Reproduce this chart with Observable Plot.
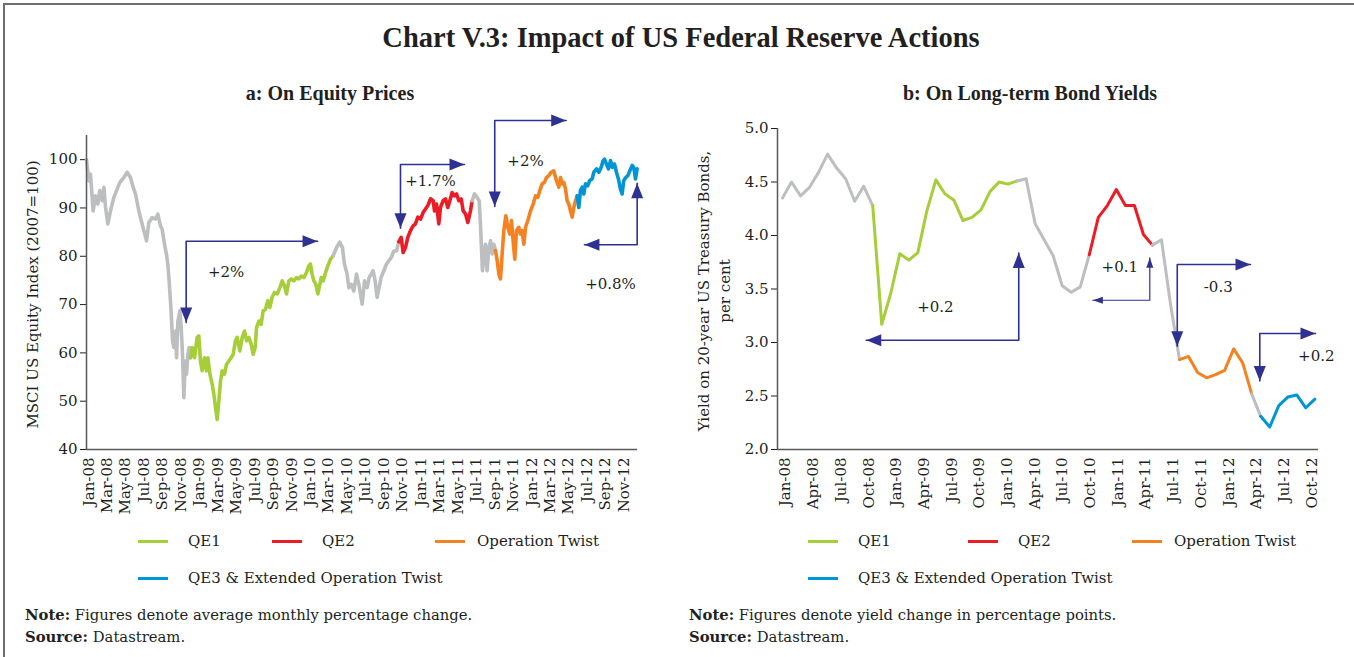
<!DOCTYPE html>
<html><head><meta charset="utf-8">
<script src="https://cdn.jsdelivr.net/npm/d3@7"></script>
<script src="https://cdn.jsdelivr.net/npm/@observablehq/plot@0.6"></script>
<style>
body{margin:0;background:#fff;}
#page{position:relative;width:1354px;height:657px;overflow:hidden;background:#fff;font-family:"DejaVu Serif",serif;color:#231f20;}
.abs{position:absolute;white-space:nowrap;}
.title{font-family:"Liberation Serif",serif;font-weight:bold;font-size:28.5px;transform:translate(-50%,-50%);}
.sub{font-family:"Liberation Serif",serif;font-weight:bold;font-size:20px;transform:translate(-50%,-50%);}
.leg{font-size:15px;transform:translateY(-50%);display:flex;align-items:center;}
.sw{display:inline-block;width:30px;height:3px;margin-right:20px;}
.note{font-size:14.8px;transform:translateY(-50%);}
#left,#right{position:absolute;top:110px;}
#left{left:0;} #right{left:680px;}
</style></head><body>
<div id="page">
  <div class="abs" style="left:3px;top:3px;width:1351px;height:2px;background:#6d6e71"></div>
  <div class="abs" style="left:3px;top:3px;width:2px;height:654px;background:#6d6e71"></div>
  <div class="abs title" style="left:681px;top:38px">Chart V.3: Impact of US Federal Reserve Actions</div>
  <div class="abs sub" style="left:330px;top:93px">a: On Equity Prices</div>
  <div class="abs sub" style="left:1030px;top:93px">b: On Long-term Bond Yields</div>
  <div id="left"></div>
  <div id="right"></div>
  <div id="legends"></div>
  <div class="abs note" style="left:25px;top:614px"><b>Note:</b> Figures denote average monthly percentage change.</div>
  <div class="abs note" style="left:25px;top:636px"><b>Source:</b> Datastream.</div>
  <div class="abs note" style="left:689px;top:614px"><b>Note:</b> Figures denote yield change in percentage points.</div>
  <div class="abs note" style="left:689px;top:636px"><b>Source:</b> Datastream.</div>
</div>
<script>
// ---------- Colours ----------
const phaseNames = ["QE1", "QE2", "Operation Twist", "QE3 & Extended Operation Twist"];
const phaseColors = ["#a6ce39", "#ed1c24", "#f58220", "#0096d6"];
const greyColor = "#bcbec0";
const arrowColor = "#2e3192";

// ---------- Panel a: MSCI US equity index (decimal year, index) ----------
const eqPre = [[2008.000,100],[2008.021,95.6],[2008.036,97],[2008.060,89.4],[2008.081,92.5],[2008.102,90.8],[2008.120,93.6],[2008.141,91.5],[2008.157,94.3],[2008.172,90.1],[2008.193,86.7],[2008.217,89.4],[2008.247,92.2],[2008.271,93.6],[2008.301,95.3],[2008.337,96.3],[2008.367,97.4],[2008.397,96.3],[2008.421,94.3],[2008.442,92.9],[2008.473,89.4],[2008.494,87.4],[2008.518,85.3],[2008.542,83.2],[2008.563,87],[2008.593,88],[2008.623,87.7],[2008.644,88.7],[2008.668,86.3],[2008.683,85.6],[2008.704,82.5],[2008.722,80.4],[2008.734,78.4],[2008.746,74.9],[2008.758,70.8],[2008.767,67.3],[2008.777,62.5],[2008.789,61.1],[2008.804,64.5],[2008.813,59],[2008.825,66.6],[2008.843,68.7],[2008.855,65.2],[2008.867,59.7],[2008.879,50.7],[2008.891,58.3],[2008.903,55.6],[2008.915,59.7],[2008.927,61.1],[2008.939,59]];
const eqQE1 = [[2008.939,59],[2008.954,61.1],[2008.975,59],[2008.999,63.2],[2009.014,63.5],[2009.029,58.3],[2009.044,56.3],[2009.065,59],[2009.083,56.3],[2009.096,59],[2009.114,55.6],[2009.135,53.5],[2009.150,51.4],[2009.165,48.7],[2009.180,46.2],[2009.195,50],[2009.210,54.2],[2009.225,56.3],[2009.246,55.6],[2009.264,57.6],[2009.285,58.3],[2009.306,59],[2009.324,59.7],[2009.345,62.5],[2009.360,63.2],[2009.384,60.4],[2009.406,63.2],[2009.427,64.5],[2009.445,62.5],[2009.466,63.2],[2009.487,61.8],[2009.505,59.7],[2009.523,61.1],[2009.535,65.2],[2009.556,66.6],[2009.577,65.9],[2009.595,68.7],[2009.616,69],[2009.637,70.8],[2009.655,69.4],[2009.676,71.5],[2009.697,72.5],[2009.722,72.2],[2009.746,73.5],[2009.767,74.9],[2009.788,73.9],[2009.806,72.2],[2009.827,74.9],[2009.848,75.3],[2009.872,74.9],[2009.896,75.6],[2009.917,75.3],[2009.938,75.9],[2009.962,75.6],[2009.986,76.6],[2010.007,78],[2010.022,78.4],[2010.037,76.3],[2010.053,74.9],[2010.071,74.2],[2010.089,72.2],[2010.107,74.2],[2010.119,75.6],[2010.137,74.9],[2010.158,76.6],[2010.179,78],[2010.203,79.4],[2010.227,80.1]];
const eqGap1 = [[2010.227,80.1],[2010.257,81.8],[2010.287,82.9],[2010.311,81.8],[2010.329,78.4],[2010.353,76.3],[2010.369,73.5],[2010.390,74.2],[2010.414,72.8],[2010.438,76.3],[2010.459,74.2],[2010.489,70.1],[2010.510,74.9],[2010.534,73.5],[2010.552,75.6],[2010.570,76.3],[2010.588,77],[2010.606,74.9],[2010.624,71.5],[2010.642,73.5],[2010.660,75.6],[2010.685,77],[2010.709,78.4],[2010.730,79.1],[2010.751,79.7],[2010.775,81.1],[2010.799,81.1],[2010.820,83]];
const eqQE2 = [[2010.820,83],[2010.841,83.9],[2010.859,80.8],[2010.880,81.8],[2010.901,83.9],[2010.925,85.3],[2010.949,86.3],[2010.970,86.7],[2010.992,88.1],[2011.016,87.7],[2011.040,89.1],[2011.061,89.8],[2011.082,90.5],[2011.106,91.9],[2011.130,91.5],[2011.142,89.4],[2011.160,90.8],[2011.181,86.7],[2011.196,90.1],[2011.220,91.5],[2011.241,91.9],[2011.262,90.1],[2011.286,91.9],[2011.301,93.2],[2011.323,92.5],[2011.341,92.9],[2011.362,91.5],[2011.383,91.9],[2011.401,89.4],[2011.422,88.8],[2011.443,87],[2011.467,89.4],[2011.482,91.5]];
const eqGap2 = [[2011.482,91.5],[2011.503,92.9],[2011.527,92.2],[2011.545,91.5],[2011.557,86.7],[2011.566,81.8],[2011.575,77],[2011.587,79.8],[2011.602,82.5],[2011.617,77],[2011.633,81.8],[2011.648,83.2],[2011.663,80.5],[2011.678,82.5],[2011.693,81.2]];
const eqOT = [[2011.693,81.2],[2011.708,79.1],[2011.723,76.3],[2011.738,75.3],[2011.753,80.5],[2011.768,85.3],[2011.786,88.4],[2011.804,86],[2011.822,84.6],[2011.837,87.4],[2011.852,83.2],[2011.867,79.4],[2011.882,85.3],[2011.903,86],[2011.918,84.6],[2011.933,85.3],[2011.949,82.5],[2011.964,86],[2011.985,87.4],[2012.009,89.4],[2012.033,90.8],[2012.054,92.5],[2012.075,92.2],[2012.093,93.6],[2012.114,95],[2012.135,95.3],[2012.153,96.3],[2012.174,96.7],[2012.195,97.4],[2012.219,97.7],[2012.243,95.7],[2012.265,94.3],[2012.280,96.3],[2012.295,95],[2012.310,95.3],[2012.325,93.9],[2012.340,91.5],[2012.355,90.8],[2012.370,89.4],[2012.385,88.1],[2012.400,90.1],[2012.415,91.5],[2012.430,92.5]];
const eqQE3 = [[2012.430,92.5],[2012.445,90.1],[2012.460,93.6],[2012.475,94.3],[2012.490,92.9],[2012.505,95],[2012.526,94.6],[2012.544,95.7],[2012.565,96],[2012.581,97.4],[2012.605,98.1],[2012.626,97.4],[2012.647,98.4],[2012.665,99.8],[2012.677,100.1],[2012.695,99.1],[2012.713,98.1],[2012.731,99.8],[2012.749,98.4],[2012.767,99.1],[2012.785,97.4],[2012.803,96],[2012.821,93.9],[2012.836,92.9],[2012.851,95.7],[2012.869,96.3],[2012.888,96.7],[2012.906,97.7],[2012.927,98.8],[2012.942,98.4],[2012.957,96],[2012.972,98.1]];

const eqTickLabels = ["Jan-08","Mar-08","May-08","Jul-08","Sep-08","Nov-08","Jan-09","Mar-09","May-09","Jul-09","Sep-09","Nov-09","Jan-10","Mar-10","May-10","Jul-10","Sep-10","Nov-10","Jan-11","Mar-11","May-11","Jul-11","Sep-11","Nov-11","Jan-12","Mar-12","May-12","Jul-12","Sep-12","Nov-12"];
const eqYTicks = [40, 50, 60, 70, 80, 90, 100];
const eqYLabel = "MSCI US Equity Index (2007=100)";
// annotation arrows: corner point, horizontal tip (x), vertical tip (y)
const eqArrows = [
  {corner: [2008.900, 83.1], hTip: 2010.086, vTip: 66.3},
  {corner: [2010.835, 99.0], hTip: 2011.413, vTip: 85.8},
  {corner: [2011.686, 108.1], hTip: 2012.331, vTip: 90.3},
  {corner: [2012.972, 82.4], hTip: 2012.496, vTip: 95.1}
];
const eqNotes = [
  {x: 2009.261, y: 76.7, text: "+2%"},
  {x: 2011.106, y: 95.6, text: "+1.7%"},
  {x: 2011.964, y: 99.6, text: "+2%"},
  {x: 2012.731, y: 74.3, text: "+0.8%"}
];

// ---------- Panel b: 20-year US Treasury yield ----------
const bondStart = 2008.0;       // first observation
const bondStep = 0.08146;       // spacing of observations (years)
const bondYield = [4.35,4.50,4.37,4.45,4.59,4.76,4.63,4.53,4.32,4.46,4.28,3.17,3.46,3.83,3.77,3.84,4.23,4.52,4.39,4.33,4.14,4.17,4.24,4.41,4.50,4.48,4.51,4.53,4.11,3.96,3.81,3.53,3.47,3.52,3.82,4.17,4.28,4.43,4.28,4.28,4.01,3.91,3.96,3.36,2.84,2.87,2.72,2.67,2.70,2.74,2.94,2.81,2.52,2.31,2.21,2.41,2.49,2.51,2.39,2.47];
// segments by observation index: [from, to, phase index or -1 for grey]
const bondSegments = [[0,10,-1],[10,26,0],[26,34,-1],[34,41,1],[41,44,-1],[44,52,2],[52,53,-1],[53,59,3]];
const bondTickLabels = ["Jan-08","Apr-08","Jul-08","Oct-08","Jan-09","Apr-09","Jul-09","Oct-09","Jan-10","Apr-10","Jul-10","Oct-10","Jan-11","Apr-11","Jul-11","Oct-11","Jan-12","Apr-12","Jul-12","Oct-12"];
const bondYTicks = [2.0, 2.5, 3.0, 3.5, 4.0, 4.5, 5.0];
const bondYLabel = "Yield on 20-year US Treasury Bonds,\nper cent";
const bondArrows = [
  {corner: [2010.133, 3.021], hTip: 2008.756, vTip: 3.837, small: false},
  {corner: [2011.316, 3.395], hTip: 2010.802, vTip: 3.791, small: true},
  {corner: [2011.564, 3.729], hTip: 2012.225, vTip: 2.965, small: false},
  {corner: [2012.309, 3.084], hTip: 2012.812, vTip: 2.641, small: false}
];
const bondNotes = [
  {x: 2009.381, y: 3.333, text: "+0.2"},
  {x: 2011.045, y: 3.701, text: "+0.1"},
  {x: 2011.934, y: 3.520, text: "-0.3"},
  {x: 2012.819, y: 2.875, text: "+0.2"}
];

// ---------- helpers ----------
const monthIdx = {Jan:0,Feb:1,Mar:2,Apr:3,May:4,Jun:5,Jul:6,Aug:7,Sep:8,Oct:9,Nov:10,Dec:11};
const labelYear = s => 2000 + +s.slice(4) + monthIdx[s.slice(0,3)] / 12;

function head(dir, L, W) {
  return {draw(ctx) {
    ctx.moveTo(0, 0);
    if (dir === "right") { ctx.lineTo(-L, -W); ctx.lineTo(-L, W); }
    if (dir === "left")  { ctx.lineTo(L, -W);  ctx.lineTo(L, W); }
    if (dir === "down")  { ctx.lineTo(-W, -L); ctx.lineTo(W, -L); }
    if (dir === "up")    { ctx.lineTo(-W, L);  ctx.lineTo(W, L); }
    ctx.closePath();
  }};
}

function arrowMarks(arrows) {
  const marks = [];
  for (const a of arrows) {
    const [cx, cy] = a.corner;
    const L = a.small ? 10 : 15, W = a.small ? 3.5 : 6;
    const sw = a.small ? 1.2 : 1.6;
    marks.push(Plot.line([[a.hTip, cy], [cx, cy], [cx, a.vTip]], {stroke: arrowColor, strokeWidth: sw}));
    marks.push(Plot.dot([[a.hTip, cy]], {symbol: head(a.hTip > cx ? "right" : "left", L, W), fill: arrowColor, stroke: "none", r: 5}));
    marks.push(Plot.dot([[cx, a.vTip]], {symbol: head(a.vTip < cy ? "down" : "up", L, W), fill: arrowColor, stroke: "none", r: 5}));
  }
  return marks;
}

const axisColor = "#58595b";
const fontStyle = {fontFamily: "DejaVu Serif, serif", fontSize: "15px", color: "#231f20", background: "transparent", overflow: "visible"};

// ---------- Panel a ----------
const eqSegs = [[eqPre, greyColor], [eqQE1, phaseColors[0]], [eqGap1, greyColor], [eqQE2, phaseColors[1]], [eqGap2, greyColor], [eqOT, phaseColors[2]], [eqQE3, phaseColors[3]]];
const eqXDomain = [2008.0, 2012.975];
const left = Plot.plot({
  width: 680, height: 410,
  marginLeft: 86, marginRight: 43, marginTop: 25, marginBottom: 71,
  style: fontStyle,
  x: {domain: eqXDomain, axis: null},
  y: {domain: [40, 105], ticks: eqYTicks, tickSize: 6, tickPadding: 3, label: null},
  marks: [
    ...eqSegs.map(([d, c]) => Plot.line(d, {x: d => d[0], y: d => d[1], stroke: c, strokeWidth: 3.6, strokeLinejoin: "round"})),
    Plot.ruleX([eqXDomain[0]], {y1: 40, y2: 105, stroke: axisColor, strokeWidth: 1.5}),
    Plot.ruleY([40], {stroke: axisColor, strokeWidth: 1.5}),
    Plot.text(eqTickLabels, {x: labelYear, text: d => d, frameAnchor: "bottom", rotate: -90, textAnchor: "end", dy: 8, dx: 7, fontSize: 15, fill: "#231f20"}),
    Plot.text([eqYLabel], {frameAnchor: "left", text: d => d, rotate: -90, textAnchor: "middle", dx: -53, dy: 2, fontSize: 15, fill: "#231f20"}),
    ...arrowMarks(eqArrows),
    Plot.text(eqNotes, {x: "x", y: "y", text: "text", fontSize: 15, fill: "#231f20"})
  ]
});
document.getElementById("left").appendChild(left);

// ---------- Panel b ----------
const bondRows = bondYield.map((v, i) => ({t: bondStart + i * bondStep, v}));
const bondXDomain = [2007.955, 2012.839];
const right = Plot.plot({
  width: 674, height: 410,
  marginLeft: 97, marginRight: 36, marginTop: 18, marginBottom: 71,
  style: fontStyle,
  x: {domain: bondXDomain, axis: null},
  y: {domain: [2, 5], ticks: bondYTicks, tickSize: 6, tickPadding: 3, tickFormat: d3.format(".1f"), label: null},
  marks: [
    ...bondSegments.map(([a, b, p]) => Plot.line(bondRows.slice(a, b + 1), {x: "t", y: "v", stroke: p < 0 ? greyColor : phaseColors[p], strokeWidth: 3, strokeLinejoin: "round"})),
    Plot.ruleX([bondXDomain[0]], {y1: 2, y2: 5, stroke: axisColor, strokeWidth: 1.5}),
    Plot.ruleY([2], {stroke: axisColor, strokeWidth: 1.5}),
    Plot.text(bondTickLabels, {x: labelYear, text: d => d, frameAnchor: "bottom", rotate: -90, textAnchor: "end", dy: 8, dx: 8, fontSize: 15, fill: "#231f20"}),
    Plot.text([bondYLabel], {frameAnchor: "left", text: d => d, rotate: -90, textAnchor: "middle", dx: -65, dy: 2, lineHeight: 1.45, fontSize: 15, fill: "#231f20"}),
    ...arrowMarks(bondArrows),
    Plot.text(bondNotes, {x: "x", y: "y", text: "text", fontSize: 15, fill: "#231f20"})
  ]
});
document.getElementById("right").appendChild(right);

// ---------- Legends (HTML) ----------
const legendLayout = [
  {x0: 138, cols: [138, 272, 435]},
  {x0: 808, cols: [808, 968, 1132]}
];
const lg = document.getElementById("legends");
for (const L of legendLayout) {
  phaseNames.forEach((name, i) => {
    const el = document.createElement("div");
    el.className = "abs leg";
    const x = i < 3 ? L.cols[i] : L.x0;
    const y = i < 3 ? 541 : 578;
    const gap = (i === 2) ? 12 : 20;
    el.style.left = x + "px"; el.style.top = y + "px";
    el.innerHTML = `<span class="sw" style="background:${phaseColors[i]};margin-right:${gap}px"></span><span>${name}</span>`;
    lg.appendChild(el);
  });
}
</script>
</body></html>
